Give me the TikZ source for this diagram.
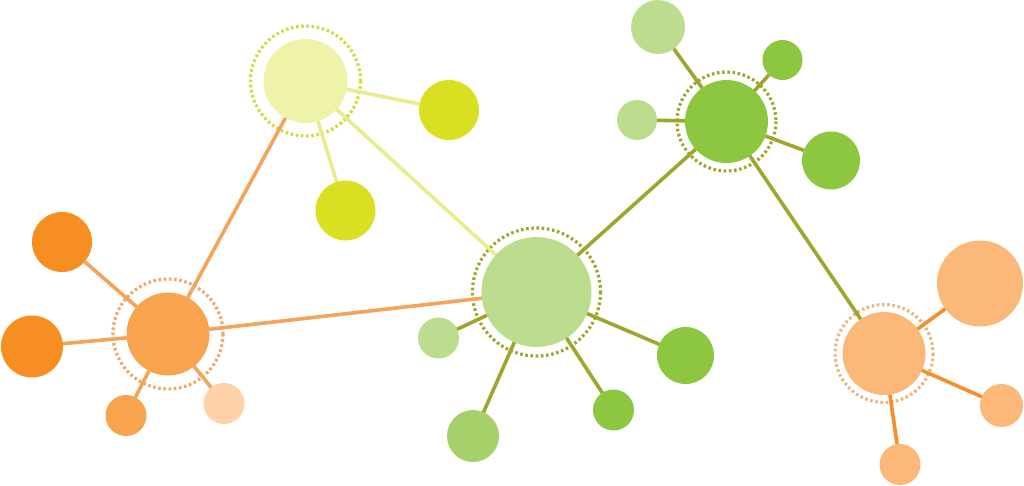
\documentclass[tikz,border=0pt]{standalone}
\definecolor{paleyel}{HTML}{EFF3A9}
\definecolor{yelgrn}{HTML}{D9E021}
\definecolor{yelring}{HTML}{D2DA3C}
\definecolor{yelline}{HTML}{E8EC8C}
\definecolor{orgdark}{HTML}{F68E21}
\definecolor{orgmid}{HTML}{F8A34E}
\definecolor{orgpale}{HTML}{FCD2A6}
\definecolor{orgring}{HTML}{F0A867}
\definecolor{orgline}{HTML}{F4A35A}
\definecolor{grnlight}{HTML}{BCDD8D}
\definecolor{grnmid}{HTML}{A6D06A}
\definecolor{grndark}{HTML}{8DC63F}
\definecolor{olive}{HTML}{9EA62C}
\definecolor{peach}{HTML}{FBB878}
\definecolor{peachring}{HTML}{EDB580}
\definecolor{orgbright}{HTML}{F68E2A}
\tikzset{
  dot/.style 2 args={circle,inner sep=0pt,outer sep=0pt,minimum size=#1,fill=#2,draw=none},
  ringline/.style={line width=3.2pt,dash pattern=on 2.6pt off 2.6pt},
  link/.style={line width=3.6pt}
}
\begin{document}
\begin{tikzpicture}[x=1pt,y=-1pt]
\useasboundingbox (0,0) rectangle (1024,485);
% nodes
\node[dot={84pt}{paleyel}] (h1) at (305.5,81) {};
\node[dot={60pt}{yelgrn}] (y1) at (449,110) {};
\node[dot={60pt}{yelgrn}] (y2) at (345.5,210.5) {};
\node[dot={83pt}{orgmid}] (h2) at (168,334) {};
\node[dot={60pt}{orgdark}] (o1) at (62,242) {};
\node[dot={62pt}{orgdark}] (o2) at (32,346.5) {};
\node[dot={41pt}{orgmid}] (o3) at (126,415.5) {};
\node[dot={41pt}{orgpale}] (o4) at (224,403.5) {};
\node[dot={110pt}{grnlight}] (h3) at (536.5,292) {};
\node[dot={41pt}{grnlight}] (g1) at (438.5,338) {};
\node[dot={52pt}{grnmid}] (g2) at (473,436) {};
\node[dot={41pt}{grndark}] (g3) at (613.5,410) {};
\node[dot={57pt}{grndark}] (g4) at (685.5,355.5) {};
\node[dot={83pt}{grndark}] (h4) at (726.5,121.5) {};
\node[dot={54pt}{grnlight}] (g5) at (658,27) {};
\node[dot={40pt}{grndark}] (g6) at (782.5,60) {};
\node[dot={40pt}{grnlight}] (g7) at (637,120) {};
\node[dot={58pt}{grndark}] (g8) at (831,160.5) {};
\node[dot={83pt}{peach}] (h5) at (884,353.5) {};
\node[dot={86pt}{peach}] (p1) at (980,283.5) {};
\node[dot={43pt}{peach}] (p2) at (1001.5,405.5) {};
\node[dot={41pt}{peach}] (p3) at (900,464.5) {};
% dotted rings
\draw[ringline,yelring] (h1.center) circle (55);
\draw[ringline,orgring] (h2.center) circle (55);
\draw[ringline,olive] (h3.center) circle (64);
\draw[ringline,olive] (h4.center) circle (49.5);
\draw[ringline,peachring] (h5.center) circle (49);
% connectors
\draw[link,orgline] (h2) -- (h1);
\draw[link,orgline] (h2) -- (h3);
\draw[link,orgline] (h2) -- (o1);
\draw[link,orgline] (h2) -- (o2);
\draw[link,orgline] (h2) -- (o3);
\draw[link,orgline] (h2) -- (o4);
\draw[link,yelline] (h1) -- (y1);
\draw[link,yelline] (h1) -- (y2);
\draw[link,yelline] (h1) -- (h3);
\draw[link,olive] (h3) -- (h4);
\draw[link,olive] (h3) -- (g1);
\draw[link,olive] (h3) -- (g2);
\draw[link,olive] (h3) -- (g3);
\draw[link,olive] (h3) -- (g4);
\draw[link,olive] (h4) -- (g5);
\draw[link,olive] (h4) -- (g6);
\draw[link,olive] (h4) -- (g7);
\draw[link,olive] (h4) -- (g8);
\draw[link,olive] (h4) -- (h5);
\draw[link,orgbright] (h5) -- (p1);
\draw[link,orgbright] (h5) -- (p2);
\draw[link,orgbright] (h5) -- (p3);
\end{tikzpicture}
\end{document}
